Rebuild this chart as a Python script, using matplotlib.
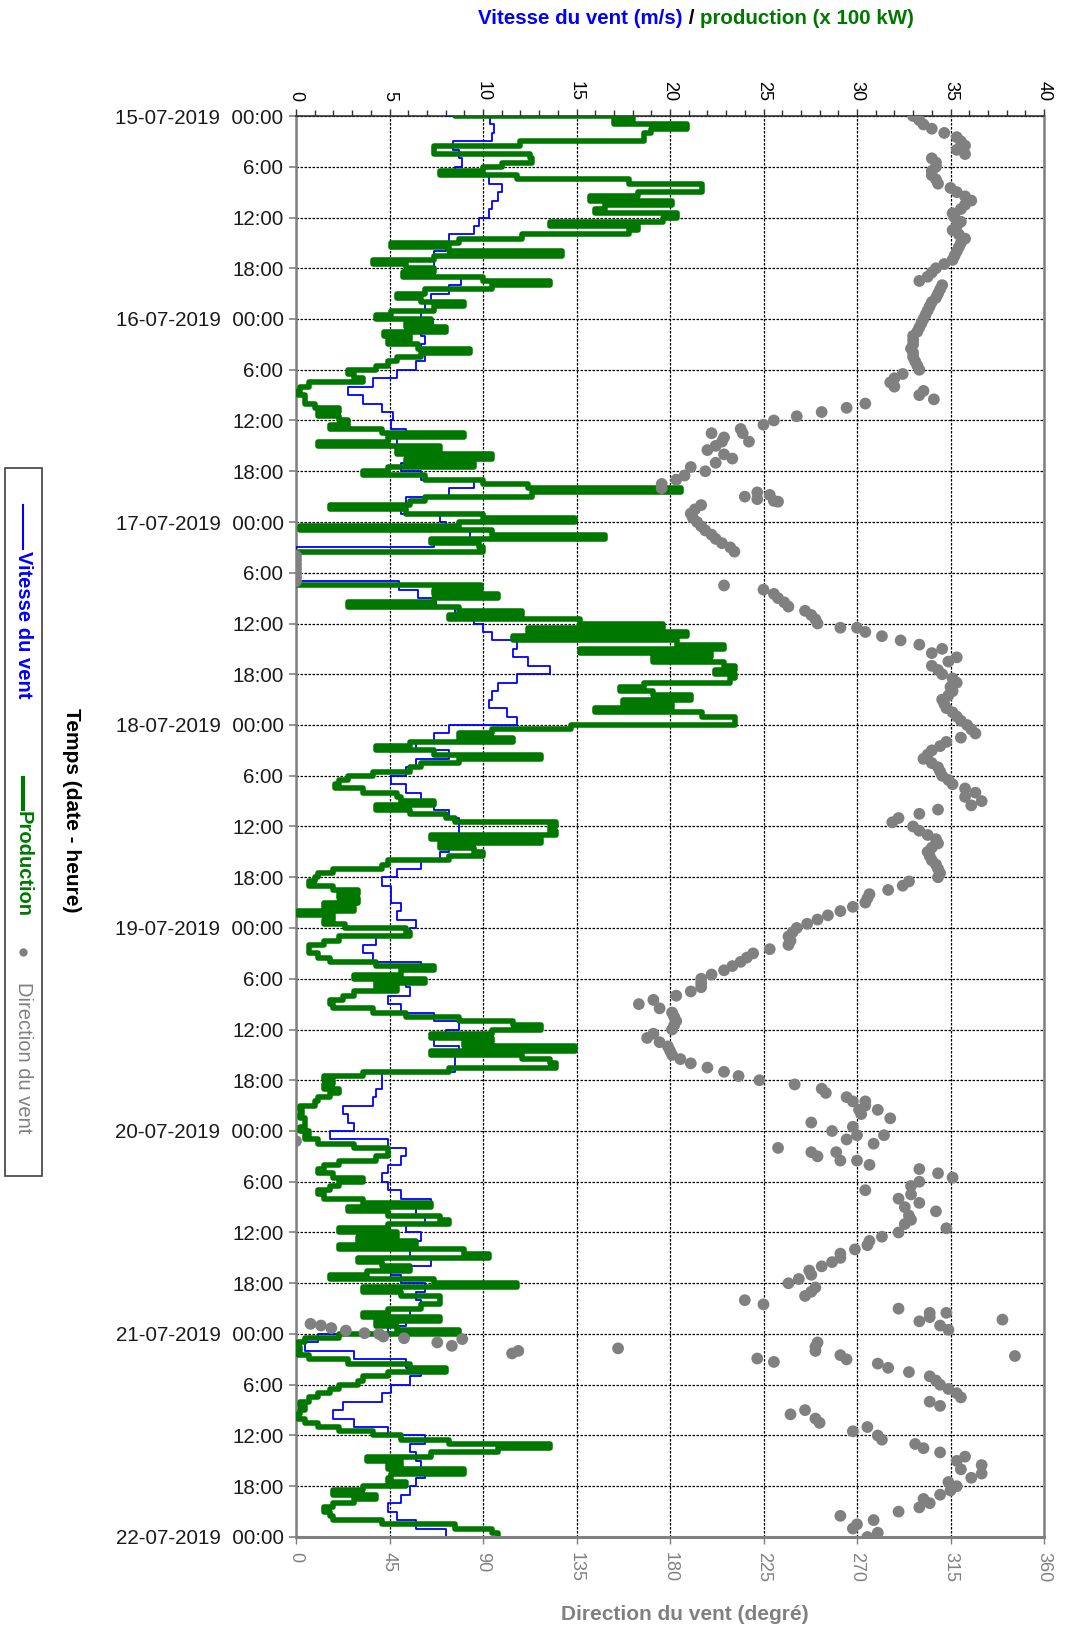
import matplotlib
matplotlib.use("Agg")
import matplotlib.pyplot as plt
from matplotlib.ticker import MultipleLocator
from matplotlib.patches import Rectangle
from matplotlib.lines import Line2D

plt.rcParams['font.family'] = ['Liberation Sans', 'DejaVu Sans']
NARROW = ['Liberation Sans Narrow', 'Liberation Sans', 'DejaVu Sans']

BLUE = '#0000ff'
GREEN = '#007800'
GREY = '#808080'

# hours since 15-07-2019 00:00
W, H = 1066, 1632

# wind speed (m/s), one value per hour
speed_15 = [8.0, 10.4, 10.6, 10.5, 8.4, 8.7, 8.9, 8.5, 10.3, 11.0, 10.8, 10.5,
            10.3, 9.8, 9.5, 8.2, 8.0, 7.4, 7.4, 7.2, 8.8, 8.2, 7.2, 6.9]
speed_16 = [6.7, 7.3, 6.7, 6.9, 6.7, 6.9, 6.4, 5.4, 4.1, 2.8, 3.6, 4.6,
            5.2, 5.1, 5.9, 5.4, 5.6, 5.9, 5.6, 6.7, 9.5, 8.2, 5.9, 5.6]
speed_17 = [7.7, 8.0, 9.3, 7.4, 0, 0, 0, 0, 5.5, 6.5, 7.5, 8.5,
            9.5, 10.0, 10.5, 11.8, 11.6, 12.4, 13.6, 11.8, 10.8, 10.5, 10.3, 11.3]
speed_18 = [11.8, 8.2, 7.4, 6.4, 8.2, 6.4, 5.9, 5.1, 5.9, 6.7, 7.4, 8.2,
            8.7, 8.7, 8.5, 8.2, 7.7, 6.7, 5.4, 4.6, 5.1, 5.1, 5.6, 5.4]
speed_19 = [6.4, 6.1, 4.3, 3.6, 4.1, 6.7, 5.6, 5.9, 6.1, 4.9, 5.6, 7.4,
            8.7, 8.0, 7.4, 8.7, 8.5, 8.5, 4.6, 4.6, 4.3, 4.1, 2.5, 2.8]
speed_20 = [3.1, 1.8, 4.9, 5.9, 5.6, 4.9, 4.6, 4.9, 5.6, 7.2, 6.4, 6.9,
            5.9, 6.7, 6.1, 6.1, 7.2, 5.1, 5.6, 6.9, 6.4, 6.7, 6.1, 5.9]
speed_21 = [4.9, 1.2, 0.5, 3.1, 5.9, 6.7, 6.1, 5.1, 4.6, 2.5, 2.0, 3.1,
            4.9, 6.9, 6.1, 6.4, 6.7, 6.9, 6.4, 6.1, 5.6, 4.9, 5.4, 6.4, 8.0]

# production (x 100 kW), one value per half hour
prod_15 = [8.5, 18.0, 17.0, 20.9, 19.0, 18.6, 18.6, 12.0, 7.4, 7.4, 12.5, 12.6,
           11.0, 10.0, 7.7, 11.8, 17.8, 21.7, 21.7, 18.3, 15.7, 20.1, 16.5, 16.0,
           20.4, 19.6, 13.6, 18.3, 17.8, 12.1, 8.7, 5.1, 8.2, 14.2, 7.4, 4.1,
           5.9, 7.4, 5.7, 10.0, 13.6, 10.5, 6.9, 5.4, 6.7, 9.0, 7.4, 5.1]
prod_16 = [4.3, 7.2, 5.9, 8.0, 4.7, 6.1, 4.9, 6.5, 9.3, 6.7, 5.4, 4.9,
           4.3, 2.8, 3.1, 3.6, 0.7, 0.2, 0.1, 0.5, 0.5, 1.0, 2.3, 1.2,
           2.3, 2.8, 1.8, 4.6, 9.0, 4.9, 1.2, 7.7, 5.4, 10.5, 5.9, 9.5,
           4.9, 3.6, 6.9, 10.0, 12.4, 20.6, 12.6, 6.9, 6.1, 1.8, 5.9, 10.0]
prod_17 = [14.9, 8.7, 0.2, 10.5, 16.5, 7.2, 9.8, 10.0, 0, 0, 0, 0,
           0, 0, 0, 0, 9.9, 7.4, 10.8, 7.4, 2.8, 8.7, 12.1, 8.2,
           15.2, 19.6, 12.4, 20.9, 11.6, 20.4, 22.9, 15.2, 22.2, 19.1, 22.9, 23.5,
           22.4, 23.5, 23.2, 18.6, 17.3, 19.1, 21.1, 17.5, 20.1, 16.0, 21.7, 23.5]
prod_18 = [23.5, 14.7, 10.5, 8.7, 11.6, 6.1, 4.3, 7.4, 13.1, 8.7, 6.7, 6.1,
           4.1, 2.8, 2.3, 2.1, 3.6, 5.4, 5.6, 7.4, 4.3, 6.1, 8.0, 8.5,
           13.9, 13.6, 13.9, 7.2, 13.1, 7.7, 9.5, 10.0, 8.2, 4.9, 4.6, 2.0,
           1.2, 1.0, 0.7, 2.0, 3.3, 2.3, 3.3, 1.5, 3.1, 0.1, 2.0, 1.5]
prod_19 = [2.6, 5.9, 6.1, 2.3, 1.5, 0.7, 0.7, 1.2, 1.8, 4.3, 7.4, 5.6,
           3.1, 6.9, 4.3, 5.4, 3.1, 2.5, 1.8, 2.0, 4.1, 5.9, 8.7, 11.6,
           13.1, 10.5, 7.2, 10.5, 9.0, 14.9, 7.2, 12.1, 13.6, 13.9, 8.2, 3.6,
           1.5, 2.0, 1.5, 2.3, 1.8, 1.2, 1.0, 0.2, 0.3, 0.2, 0.5, 0.5]
prod_20 = [0.2, 0.7, 0.5, 1.2, 3.1, 4.9, 4.9, 4.3, 2.3, 1.5, 1.2, 2.0,
           3.6, 2.3, 1.8, 1.2, 1.5, 3.6, 7.2, 2.8, 4.9, 7.7, 8.2, 4.9,
           2.3, 5.4, 3.3, 6.4, 2.3, 9.0, 10.3, 3.3, 4.6, 6.1, 3.8, 1.8,
           7.4, 11.8, 3.6, 5.6, 7.7, 7.7, 6.7, 4.9, 3.6, 7.7, 4.3, 5.4]
prod_21 = [8.7, 2.3, 0.5, 0.1, 0.2, 0.1, 0.7, 2.8, 6.1, 8.0, 4.9, 3.6,
           3.3, 2.3, 1.8, 1.2, 0.7, 0.2, 0.5, 0.2, 0.1, 0.5, 1.2, 2.3,
           4.1, 5.6, 8.2, 13.6, 10.8, 7.2, 3.8, 5.6, 4.9, 9.0, 5.1, 4.9,
           5.9, 3.6, 2.0, 4.3, 3.1, 2.0, 1.5, 1.8, 2.0, 4.6, 8.5, 10.5, 10.8]

# wind direction (degrees), one value per half hour
dir_15 = [297, 300, 302, 306, 312, 318, 320, 322, 318, 322, 306, 308,
          308, 306, 306, 308, 309, 315, 318, 322, 325, 322, 320, 316,
          317, 320, 318, 316, 319, 322, 320, 319, 318, 317, 316, 312,
          308, 306, 304, 300, 311, 310, 309, 308, 306, 305, 304, 303]
dir_16 = [302, 301, 300, 299, 297, 297, 297, 296, 297, 297, 298, 299,
          300, 292, 288, 286, 288, 302, 300, 307, 274, 265, 253, 241,
          230, 225, 214, 215, 206, 218, 202, 198, 206, 210, 202, 190,
          197, 187, 183, 176, 176, 222, 216, 230, 195, 192, 190, 191]
dir_17 = [193, 195, 197, 200, 202, 205, 209, 211, 0, 0, 0, 0,
          0, 0, 0, 206, 225, 230, 232, 235, 237, 245, 248, 250,
          251, 262, 274, 282, 291, 300, 311, 306, 318, 314, 306, 309,
          311, 316, 318, 315, 316, 314, 311, 312, 313, 316, 318, 320]
dir_18 = [323, 325, 327, 320, 313, 310, 306, 304, 302, 306, 309, 310,
          311, 314, 316, 322, 327, 322, 330, 325, 309, 300, 290, 287,
          297, 300, 304, 308, 309, 306, 304, 305, 306, 308, 309, 310,
          309, 295, 292, 285, 276, 275, 274, 268, 262, 256, 251, 246]
dir_19 = [241, 239, 237, 238, 237, 228, 220, 217, 214, 210, 206, 200,
          195, 195, 195, 190, 183, 172, 165, 175, 181, 182, 183, 182,
          181, 172, 169, 175, 179, 180, 181, 185, 190, 198, 206, 213,
          223, 240, 253, 255, 265, 268, 274, 271, 272, 286, 248, 268]
dir_20 = [258, 283, 265, 278, 232, 260, 251, 270, 276, 300, 309, 316,
          300, 296, 274, 296, 290, 300, 293, 308, 295, 296, 293, 313,
          290, 282, 276, 275, 269, 262, 262, 258, 253, 247, 248, 242,
          237, 250, 248, 245, 216, 225, 290, 305, 305, 300, 310, 314]
dir_21 = [40, 52, 251, 250, 250, 262, 265, 280, 285, 295, 305, 308,
          310, 314, 318, 320, 305, 310, 245, 238, 250, 252, 275, 268,
          280, 282, 298, 302, 310, 322, 318, 330, 320, 330, 325, 314,
          318, 315, 310, 302, 305, 300, 290, 262, 278, 270, 268, 280, 275]

# scattered direction readings off the half-hour grid
dir_extra_h = [37.5, 38.5, 44.8, 45.3, 45.6, 60.5, 116.5, 117.5, 120.5, 121.2,
               122.5, 123.5, 141.5, 142.3, 142.8, 143.0, 143.3, 143.6, 143.9,
               144.3, 144.6, 145.0, 145.4, 145.7, 146.0, 146.3, 146.6, 146.9,
               147.3]
dir_extra_deg = [200, 205, 228, 222, 232, 270, 274, 280, 270, 0,
                 248, 262, 313, 340, 7, 12, 17, 24, 33,
                 42, 80, 68, 75, 155, 107, 104, 346, 222,
                 230]

days = ['15-07-2019', '16-07-2019', '17-07-2019', '18-07-2019',
        '19-07-2019', '20-07-2019', '21-07-2019', '22-07-2019']

speed = speed_15 + speed_16 + speed_17 + speed_18 + speed_19 + speed_20 + speed_21
prod = prod_15 + prod_16 + prod_17 + prod_18 + prod_19 + prod_20 + prod_21
direction = dir_15 + dir_16 + dir_17 + dir_18 + dir_19 + dir_20 + dir_21
t_hour = list(range(len(speed)))
t_half = [i * 0.5 for i in range(len(prod))]
t_dir = [i * 0.5 for i in range(len(direction))]

fig = plt.figure(figsize=(W / 100, H / 100), dpi=100)
ax = fig.add_axes([296 / W, 1 - 1537 / H, (1044 - 296) / W, (1537 - 116) / H])
axd = ax.twiny()

# time runs down the page, so each value is held over its interval
ax.plot(speed, t_hour, color=BLUE, lw=1.3, drawstyle='steps-post', zorder=3)
ax.plot(prod, t_half, color=GREEN, lw=4.0, drawstyle='steps-post',
        solid_capstyle='round', solid_joinstyle='round', zorder=4)
axd.scatter(direction, t_dir, s=72, color=GREY, edgecolors='none', zorder=5)
axd.scatter(dir_extra_deg, dir_extra_h, s=72, color=GREY, edgecolors='none', zorder=5)

ax.set_xlim(0, 40)
axd.set_xlim(0, 360)
ax.set_ylim(168, 0)

# time axis
yt = list(range(0, 169, 6))
ylab = []
for h in yt:
    if h % 24 == 0:
        ylab.append(days[h // 24] + '  00:00')
    else:
        ylab.append('%d:00' % (h % 24))
ax.set_yticks(yt)
ax.set_yticklabels(ylab, fontsize=14.8, color='#1a1a1a')
ax.tick_params(axis='y', direction='out', length=5, width=1.2, color=GREY, pad=4)

# speed / production axis on top
ax.xaxis.tick_top()
ax.set_xticks(range(0, 41, 5))
ax.xaxis.set_minor_locator(MultipleLocator(1))
ax.tick_params(axis='x', which='major', direction='out', length=5, width=1,
               color='#303030', labelsize=13, labelrotation=-90, pad=6)
ax.tick_params(axis='x', which='minor', direction='out', length=4, width=1,
               color='#303030')

# direction axis at the bottom
axd.xaxis.tick_bottom()
axd.set_xticks(range(0, 361, 45))
axd.tick_params(axis='x', direction='out', length=5, width=1, color=GREY,
                labelsize=13, labelcolor=GREY, labelrotation=-90, pad=6)

ax.grid(True, which='major', color='black', linestyle=(0, (2, 1.2)), lw=0.9)
ax.set_axisbelow(True)

for name, sp in ax.spines.items():
    sp.set_color(GREY)
    sp.set_linewidth(1.8)
ax.spines['top'].set_color('#303030')
ax.spines['top'].set_linewidth(1.2)
ax.spines['bottom'].set_visible(False)
for name, sp in axd.spines.items():
    sp.set_visible(name == 'bottom')
axd.spines['bottom'].set_color(GREY)
axd.spines['bottom'].set_linewidth(2.2)

# axis titles
fig.canvas.draw()
r = fig.canvas.get_renderer()
pieces = [("Vitesse du vent (m/s)", BLUE), (" / ", 'black'),
          ("production (x 100 kW)", GREEN)]
tt = [fig.text(0, 1 - 19 / H, s, color=c, fontsize=14.8, fontweight='bold',
               family=NARROW, va='center', ha='left') for s, c in pieces]
widths = [t.get_window_extent(r).width for t in tt]
x0 = 696 - sum(widths) / 2
for t, w in zip(tt, widths):
    t.set_x(x0 / W)
    x0 += w

fig.text(685 / W, 1 - 1614 / H, 'Direction du vent (degré)', color=GREY,
         fontsize=15, fontweight='bold', family=NARROW, ha='center', va='center')
fig.text(71 / W, 1 - 810 / H, 'Temps (date - heure)', color='black',
         fontsize=15, fontweight='bold', family=NARROW, rotation=-90,
         ha='center', va='center')

# legend box, written top to bottom
fig.add_artist(Rectangle((5 / W, 1 - 1176 / H), 37 / W, (1176 - 468) / H,
                         transform=fig.transFigure, facecolor='white',
                         edgecolor='#404040', lw=1.2))
lx = 23 / W
fig.add_artist(Line2D([lx, lx], [1 - 505 / H, 1 - 549 / H], color=BLUE, lw=1.5,
                      transform=fig.transFigure))
fig.text(lx, 1 - 551 / H, 'Vitesse du vent', color=BLUE, fontsize=14.5,
         fontweight='bold', family=NARROW, rotation=-90, ha='center', va='top')
fig.add_artist(Line2D([lx, lx], [1 - 778 / H, 1 - 809 / H], color=GREEN, lw=3,
                      transform=fig.transFigure))
fig.text(lx, 1 - 811 / H, 'Production', color=GREEN, fontsize=14.5,
         fontweight='bold', family=NARROW, rotation=-90, ha='center', va='top')
fig.add_artist(Line2D([lx], [1 - 952 / H], marker='o', markersize=5, color=GREY,
                      transform=fig.transFigure))
fig.text(lx, 1 - 982 / H, 'Direction du vent', color=GREY, fontsize=14.5,
         family=NARROW, rotation=-90, ha='center', va='top')

fig.savefig('out.png', dpi=100)
